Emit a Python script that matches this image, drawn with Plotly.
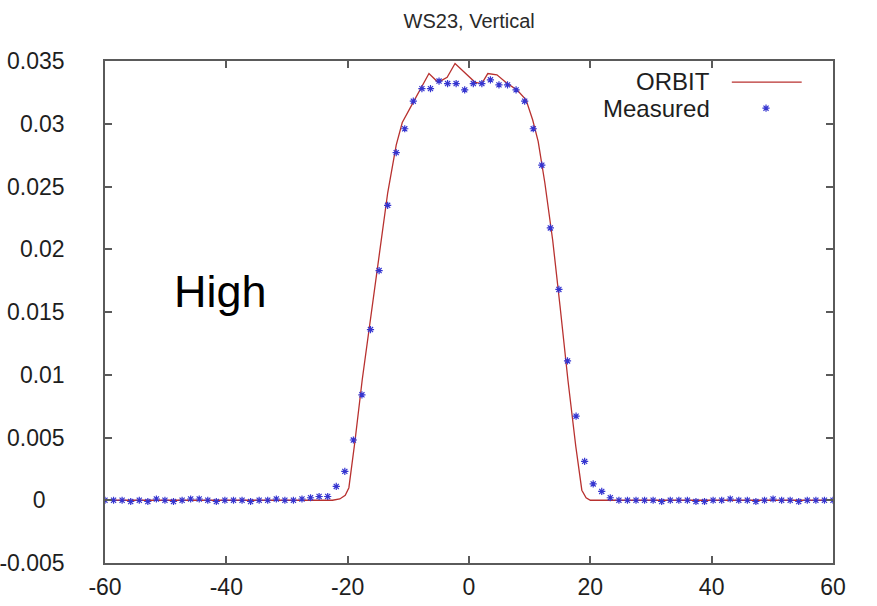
import plotly.graph_objects as go

# Measured wire-scanner profile
meas_x = [-60.00, -58.59, -57.18, -55.76, -54.35, -52.94, -51.53, -50.12, -48.71, -47.29,
          -45.88, -44.47, -43.06, -41.65, -40.24, -38.82, -37.41, -36.00, -34.59, -33.18,
          -31.76, -30.35, -28.94, -27.53, -26.12, -24.71, -23.29, -21.88, -20.47, -19.06,
          -17.65, -16.24, -14.82, -13.41, -12.00, -10.59, -9.18, -7.76, -6.35, -4.94,
          -3.53, -2.12, -0.71, 0.71, 2.12, 3.53, 4.94, 6.35, 7.76, 9.18,
          10.59, 12.00, 13.41, 14.82, 16.24, 17.65, 19.06, 20.47, 21.88, 23.29,
          24.71, 26.12, 27.53, 28.94, 30.35, 31.76, 33.18, 34.59, 36.00, 37.41,
          38.82, 40.24, 41.65, 43.06, 44.47, 45.88, 47.29, 48.71, 50.12, 51.53,
          52.94, 54.35, 55.76, 57.18, 58.59, 60.00]
meas_y = [0.0000, 0.0000, 0.0000, -0.0001, 0.0000, -0.0001, 0.0001, 0.0000, -0.0001, 0.0000,
          0.0001, 0.0001, 0.0000, -0.0001, 0.0000, 0.0000, 0.0000, -0.0001, 0.0000, 0.0000,
          0.0001, 0.0000, 0.0000, 0.0001, 0.0002, 0.0003, 0.0003, 0.0011, 0.0023, 0.0048,
          0.0084, 0.0136, 0.0183, 0.0235, 0.0277, 0.0296, 0.0318, 0.0328, 0.0328, 0.0334,
          0.0332, 0.0332, 0.0327, 0.0332, 0.0332, 0.0335, 0.0331, 0.0331, 0.0327, 0.0318,
          0.0296, 0.0267, 0.0217, 0.0168, 0.0111, 0.0067, 0.0031, 0.0013, 0.0007, 0.0002,
          0.0000, 0.0000, 0.0000, 0.0000, 0.0000, -0.0001, 0.0000, 0.0000, 0.0000, -0.0001,
          -0.0001, 0.0000, 0.0000, 0.0001, 0.0000, 0.0000, -0.0001, 0.0000, 0.0001, 0.0000,
          0.0000, -0.0001, 0.0000, 0.0000, 0.0000, 0.0000]

# ORBIT simulation
orbit_x = [-60.0, -40.0, -22.5, -21.3, -20.4, -19.8, -18.8, -17.6, -16.5, -14.8, -13.4,
           -12.0, -11.0, -9.2, -7.8, -6.6, -5.1, -3.6, -2.3, -0.7, 1.0, 2.1, 3.1, 4.6,
           6.3, 7.9, 9.4, 10.5, 11.4, 12.5, 13.8, 15.0, 16.3, 17.6, 18.6, 19.3, 20.0,
           40.0, 60.0]
orbit_y = [0.0, 0.0, 0.0, 0.0001, 0.0004, 0.0010, 0.0047, 0.0096, 0.0136, 0.0195, 0.0245,
           0.0283, 0.0301, 0.0317, 0.0330, 0.0340, 0.0333, 0.0337, 0.0348, 0.0341, 0.0333,
           0.0332, 0.0340, 0.0339, 0.0332, 0.0327, 0.0319, 0.0303, 0.0286, 0.0253, 0.0207,
           0.0155, 0.0096, 0.0043, 0.0008, 0.0002, 0.0, 0.0, 0.0]

x_ticks = [-60, -40, -20, 0, 20, 40, 60]
x_tick_text = ["-60", "-40", "-20", "0", "20", "40", "60"]
y_ticks = [-0.005, 0, 0.005, 0.01, 0.015, 0.02, 0.025, 0.03, 0.035]
y_tick_text = ["-0.005", "0\u00a0\u00a0\u00a0", "0.005", "0.01", "0.015", "0.02", "0.025",
               "0.03", "0.035"]

RED = "#b8312f"
BLUE = "#3535d0"
FONT = "Liberation Sans, Arial, sans-serif"
TXT = "#1e1e1e"

fig = go.Figure()
fig.add_trace(go.Scatter(x=orbit_x, y=orbit_y, mode="lines", name="ORBIT",
                         line=dict(color=RED, width=1.3), showlegend=False))
fig.add_trace(go.Scatter(x=meas_x, y=meas_y, mode="markers", name="Measured",
                         marker=dict(symbol="asterisk-open", size=6, color=BLUE,
                                     line=dict(color=BLUE, width=1.2)),
                         showlegend=False))
# legend samples on an auxiliary 0..1 axis pair
fig.add_trace(go.Scatter(x=[0.861, 0.957], y=[0.958, 0.958], mode="lines",
                         line=dict(color=RED, width=1.3), xaxis="x2", yaxis="y2",
                         showlegend=False, hoverinfo="skip"))
fig.add_trace(go.Scatter(x=[0.908], y=[0.906], mode="markers",
                         marker=dict(symbol="asterisk-open", size=6, color=BLUE,
                                     line=dict(color=BLUE, width=1.2)),
                         xaxis="x2", yaxis="y2", showlegend=False, hoverinfo="skip"))

axis_common = dict(showgrid=False, zeroline=False, showline=True, mirror="allticks",
                   linecolor="#5a5a5a", linewidth=1.5, ticks="inside", ticklen=7,
                   tickcolor="#5a5a5a", tickwidth=1.5, automargin=False,
                   tickfont=dict(family=FONT, size=23, color=TXT))

fig.update_layout(
    width=877, height=606,
    margin=dict(l=105, r=44, t=61, b=43),
    paper_bgcolor="white", plot_bgcolor="white",
    title=dict(text="WS23, Vertical", x=0.535, xanchor="center", y=0.966, yanchor="middle",
               font=dict(family=FONT, size=20, color="#2a2a2a")),
    xaxis=dict(range=[-60, 60], tickvals=x_ticks, ticktext=x_tick_text,
               ticklabelstandoff=3, **axis_common),
    yaxis=dict(range=[-0.005, 0.035], tickvals=y_ticks, ticktext=y_tick_text,
               ticklabelstandoff=34, **axis_common),
    xaxis2=dict(range=[0, 1], overlaying="x", visible=False),
    yaxis2=dict(range=[0, 1], overlaying="y", visible=False),
    annotations=[
        dict(text="ORBIT", x=0.834, y=0.96, xref="paper", yref="paper", xanchor="right",
             yanchor="middle", showarrow=False, font=dict(family=FONT, size=24, color=TXT)),
        dict(text="Measured", x=0.834, y=0.906, xref="paper", yref="paper", xanchor="right",
             yanchor="middle", showarrow=False, font=dict(family=FONT, size=24, color=TXT)),
        dict(text="High", x=-41, y=0.0166, xref="x", yref="y", xanchor="center",
             yanchor="middle", showarrow=False, font=dict(family=FONT, size=45, color="black")),
    ],
)

fig.write_html("out.html")
